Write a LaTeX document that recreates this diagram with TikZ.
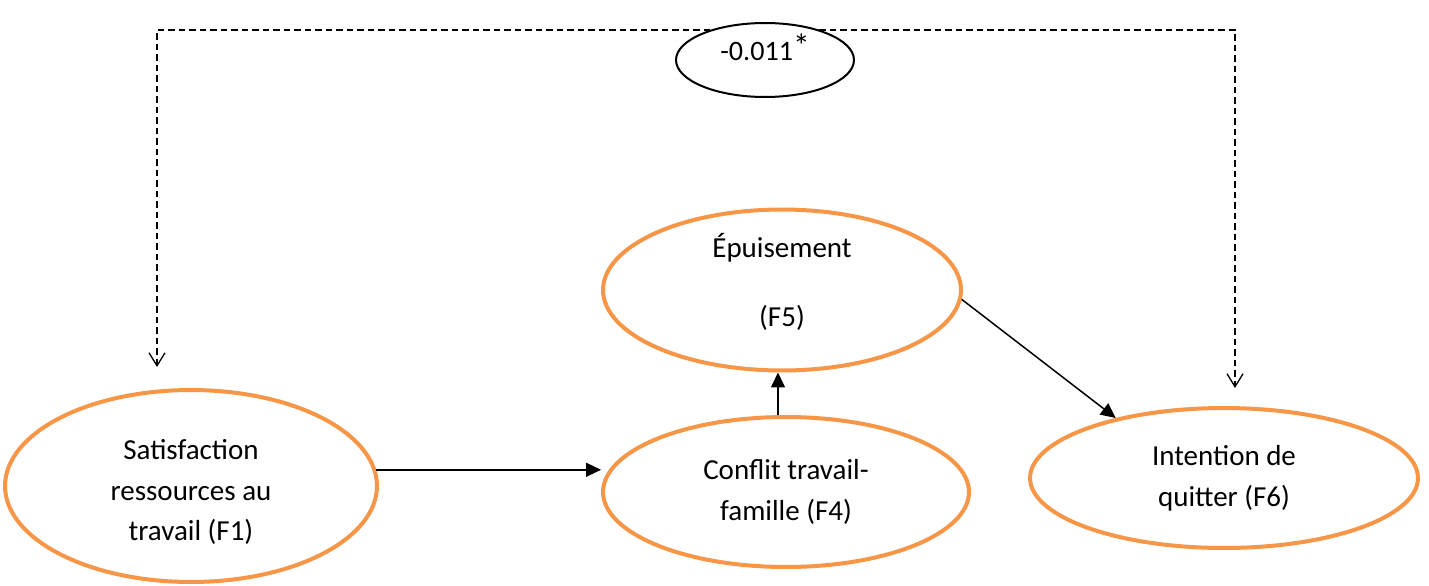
\documentclass[tikz,border=0pt]{standalone}
\usepackage{fontspec}
\setmainfont{Carlito}
\usetikzlibrary{shapes.geometric,arrows.meta}
\definecolor{factororange}{RGB}{247,150,70}
\begin{document}
\begin{tikzpicture}[x=0.02cm,y=-0.02cm,
  factor/.style={ellipse,draw=factororange,line width=0.08cm,fill=white,
    inner sep=0pt,align=center,font=\fontsize{16.5}{23.5}\selectfont},
  effect/.style={ellipse,draw=black,line width=0.04cm,fill=white,inner sep=0pt,
    minimum width=3.56cm,minimum height=1.48cm,font=\fontsize{16}{19}\selectfont},
  link/.style={-{Triangle[length=0.3cm,width=0.28cm]},line width=0.03cm},
  direct/.style={{Straight Barb[length=0.26cm,width=0.32cm,line width=0.026cm]}-{Straight Barb[length=0.26cm,width=0.32cm,line width=0.026cm]},
    line width=0.032cm,dash pattern=on 0.13cm off 0.08cm}]
  \useasboundingbox (0,0) rectangle (1429,585);

  % latent factors
  \node[factor,minimum width=7.44cm,minimum height=3.84cm] (f1) at (191,486)
    {\mbox{}\\[-5pt]Satisfaction\\[-0.5pt]ressources au\\[-0.5pt]travail (F1)};
  \node[factor,minimum width=7.32cm,minimum height=3.0cm] (f4) at (786,492)
    {Conflit travail-\\famille (F4)};
  \node[factor,minimum width=7.16cm,minimum height=3.08cm] (f5) at (782,290)
    {Épuisement\\[16pt](F5)\\[-12pt]\mbox{}};
  \node[factor,minimum width=7.76cm,minimum height=2.8cm] (f6) at (1224,478)
    {Intention de\\quitter (F6)};

  % direct effect of F1 on F6
  \coordinate (dL) at (157,367);
  \coordinate (dR) at (1235,388);
  \coordinate (top) at (0,30);
  \draw[direct] (dL) -- (dL |- top) -- (dR |- top) -- (dR);
  \node[effect] (eff) at (765,60)
    {\raisebox{4pt}[0.75em][0.2em]{-0.011\raisebox{0.12em}{\fontsize{19}{19}\selectfont *}}};

  % mediation paths
  \coordinate (vx) at (778,0);
  \draw[link] (f1.5) -- (f1.5 -| f4.west);
  \draw[link] (f4.north -| vx) -- (f5.south -| vx);
  \draw[link] (f5.-3) -- (f6.151);
\end{tikzpicture}
\end{document}
